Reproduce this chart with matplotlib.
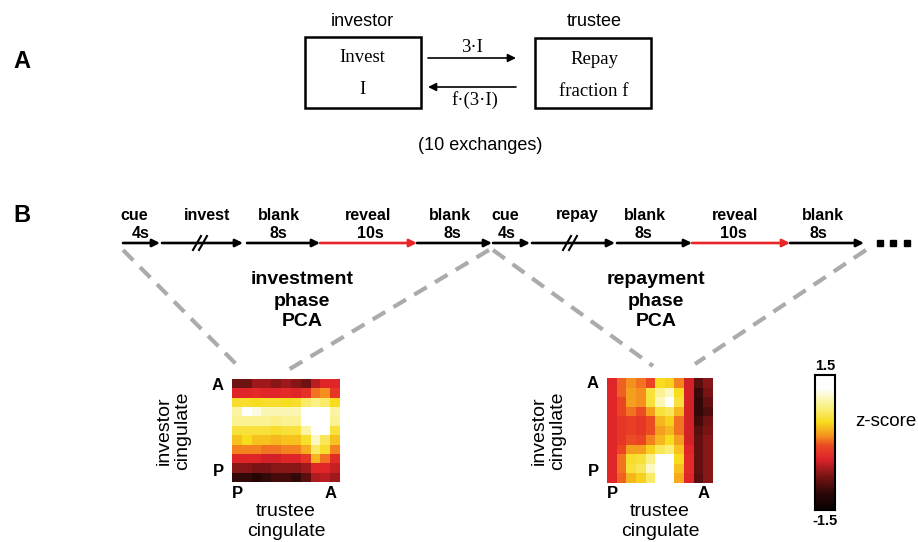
import numpy as np
import matplotlib
matplotlib.use("Agg")
import matplotlib.pyplot as plt
from matplotlib.colors import LinearSegmentedColormap, Normalize
from matplotlib.patches import Rectangle

plt.rcParams['font.family'] = ['Liberation Sans', 'DejaVu Sans']

# ---------------- data ----------------
phase1_labels = ["cue", "invest", "blank", "reveal", "blank"]
phase1_times = ["4s", "", "8s", "10s", "8s"]
phase2_labels = ["cue", "repay", "blank", "reveal", "blank"]
phase2_times = ["4s", "", "8s", "10s", "8s"]

invest_pca = np.array([
    [-0.8, -0.8, -0.6, -0.6, -0.7, -0.6, -0.7, -0.8, -0.5, -0.35, -0.35],
    [-0.35, -0.35, -0.3, -0.35, -0.35, -0.3, -0.35, -0.25, 0.05, 0.15, -0.2],
    [0.5, 0.5, 0.45, 0.5, 0.5, 0.45, 0.5, 0.7, 0.8, 0.7, 0.45],
    [0.9, 1.2, 1.1, 0.95, 0.95, 0.95, 0.95, 1.3, 1.4, 1.3, 0.9],
    [0.85, 0.85, 0.85, 0.85, 0.8, 0.85, 0.85, 1.3, 1.5, 1.3, 0.85],
    [0.55, 0.55, 0.55, 0.55, 0.5, 0.55, 0.55, 0.9, 1.3, 1.2, 0.55],
    [0.35, 0.45, 0.35, 0.35, 0.3, 0.35, 0.35, 0.5, 1.0, 0.65, 0.35],
    [0.1, 0.1, 0.1, 0.05, 0.05, 0.1, 0.1, 0.25, 0.7, 0.5, 0.1],
    [-0.35, -0.35, -0.35, -0.4, -0.4, -0.35, -0.35, -0.2, 0.3, 0.05, -0.3],
    [-0.7, -0.7, -0.75, -0.75, -0.7, -0.7, -0.7, -0.6, -0.35, -0.35, -0.45],
    [-1.1, -1.1, -1.2, -1.1, -1.0, -1.0, -1.1, -0.9, -0.55, -0.5, -0.6],
])

repay_pca = np.array([
    [-0.35, 0.0, 0.15, 0.05, -0.1, 0.45, 0.4, 0.1, -0.4, -0.9, -0.7],
    [-0.35, 0.0, 0.2, 0.15, 0.55, 0.85, 1.0, 0.45, -0.4, -1.05, -0.75],
    [-0.35, -0.1, 0.2, 0.15, 0.55, 0.95, 1.4, 0.55, -0.4, -1.1, -0.85],
    [-0.35, -0.1, 0.05, -0.05, 0.2, 0.55, 0.65, 0.3, -0.4, -1.1, -0.95],
    [-0.35, -0.2, -0.15, -0.2, -0.05, 0.3, 0.4, 0.05, -0.4, -1.0, -0.8],
    [-0.35, -0.2, -0.15, -0.2, -0.05, 0.2, 0.3, 0.05, -0.4, -0.9, -0.75],
    [-0.35, -0.2, -0.05, -0.1, 0.1, 0.3, 0.45, 0.2, -0.4, -0.85, -0.7],
    [-0.35, -0.1, 0.2, 0.2, 0.4, 0.65, 0.75, 0.35, -0.35, -0.85, -0.7],
    [-0.35, 0.05, 0.5, 0.55, 0.8, 1.3, 1.3, 0.45, -0.3, -0.85, -0.7],
    [-0.35, 0.05, 0.55, 0.65, 1.0, 1.5, 1.5, 0.35, -0.3, -0.85, -0.7],
    [-0.35, 0.0, 0.3, 0.4, 0.7, 1.4, 1.4, 0.25, -0.35, -0.9, -0.7],
])

zmin, zmax = -1.5, 1.5
cbar_ticks = ["1.5", "-1.5"]

# ---------------- figure ----------------
W, H = 918, 542
fig = plt.figure(figsize=(W / 100, H / 100), dpi=100)
ax = fig.add_axes([0, 0, 1, 1])
ax.set_xlim(0, W)
ax.set_ylim(H, 0)
ax.axis('off')

cmap = LinearSegmentedColormap.from_list("zs", [
    (0.0, "#0a0202"), (0.12, "#2a0707"), (0.25, "#7a1414"), (0.38, "#e0242a"),
    (0.48, "#ec4a24"), (0.54, "#f58a1f"), (0.65, "#f8dc1e"), (0.78, "#fbf390"),
    (0.9, "#ffffff"), (1.0, "#ffffff")])
norm = Normalize(zmin, zmax)

def px_axes(x0, y0, x1, y1):
    return fig.add_axes([x0 / W, 1 - y1 / H, (x1 - x0) / W, (y1 - y0) / H])

serif = ['Liberation Serif', 'DejaVu Serif']

# ---------------- Panel A ----------------
ax.text(22, 62, "A", fontsize=17, fontweight='bold', ha='center', va='center')
ax.text(362, 21, "investor", fontsize=13, ha='center', va='center')
ax.text(594, 21, "trustee", fontsize=13, ha='center', va='center')
ax.add_patch(Rectangle((305, 37), 116, 71, fill=False, lw=1.8, ec='black'))
ax.add_patch(Rectangle((535, 38), 116, 70, fill=False, lw=1.8, ec='black'))
ax.text(362, 57, "Invest", fontsize=13.5, family=serif, ha='center', va='center')
ax.text(362, 90, "I", fontsize=13.5, family=serif, ha='center', va='center')
ax.text(594, 60, "Repay", fontsize=13.5, family=serif, ha='center', va='center')
ax.text(594, 92, "fraction f", fontsize=13.5, family=serif, ha='center', va='center')
arrow_kw = dict(arrowstyle='-|>', color='black', lw=1.2, mutation_scale=12,
                shrinkA=0, shrinkB=0)
ax.annotate('', xy=(516, 58), xytext=(428, 58), arrowprops=arrow_kw)
ax.annotate('', xy=(428, 87), xytext=(516, 87), arrowprops=arrow_kw)
ax.text(472, 47, "3·I", fontsize=13.5, family=serif, ha='center', va='center')
ax.text(475, 100, "f·(3·I)", fontsize=13.5, family=serif, ha='center', va='center')
ax.text(480, 145, "(10 exchanges)", fontsize=13, ha='center', va='center')

# ---------------- Panel B timeline ----------------
ax.text(22, 215, "B", fontsize=17, fontweight='bold', ha='center', va='center')
ty = 243
segments = [  # x0, x1, label-x, time-x, color, break
    (123, 160, 134, 141, 'black', None), (162, 243, 207, None, 'black', 200),
    (247, 320, 279, 278, 'black', None), (320, 417, 368, 370, '#e8262a', None),
    (417, 492, 450, 452, 'black', None),
    (493, 530, 505, 507, 'black', None), (532, 615, 577, None, 'black', 570),
    (617, 692, 645, 643, 'black', None), (692, 790, 735, 733, '#e8262a', None),
    (790, 864, 823, 818, 'black', None)]
labels = phase1_labels + phase2_labels
times = phase1_times + phase2_times
for (x0, x1, lx, tx, col, brk), lab, tm in zip(segments, labels, times):
    ax.annotate('', xy=(x1, ty), xytext=(x0, ty),
                arrowprops=dict(arrowstyle='-|>', color=col, lw=1.9,
                                mutation_scale=11, shrinkA=0, shrinkB=0))
    ax.text(lx, 215, lab, fontsize=11.5, fontweight='bold',
            ha='center', va='center')
    if tm:
        ax.text(tx, 233, tm, fontsize=11.5, fontweight='bold',
                ha='center', va='center')
    if brk:
        for dx in (-3, 3):
            ax.plot([brk + dx - 4, brk + dx + 4], [ty + 7, ty - 7],
                    color='black', lw=1.5)
ax.plot([880, 893, 907], [ty, ty, ty], ls='none', marker='s', ms=5,
        color='black')

# dashed funnels
dash_kw = dict(color='#ababab', lw=3, dashes=(3.5, 2.3))
ax.plot([123, 238], [250, 366], **dash_kw)
ax.plot([489, 288], [250, 370], **dash_kw)
ax.plot([493, 653], [250, 366], **dash_kw)
ax.plot([866, 695], [250, 364], **dash_kw)

for cx, word in ((302, "investment"), (656, "repayment")):
    for i, t in enumerate([word, "phase", "PCA"]):
        ax.text(cx, 280 + 21 * i, t, fontsize=14, fontweight='bold',
                ha='center', va='center')

# ---------------- heatmaps ----------------
def heatmap(mat, x0, y0, x1, y1):
    hax = px_axes(x0, y0, x1, y1)
    hax.imshow(mat, cmap=cmap, norm=norm, aspect='auto',
               interpolation='nearest')
    hax.set_xticks([])
    hax.set_yticks([])
    for s in hax.spines.values():
        s.set_visible(False)
    ax.text(x0 - 14, y0 + 6, "A", fontsize=12, fontweight='bold', ha='center', va='center')
    ax.text(x0 - 14, y1 - 11, "P", fontsize=12, fontweight='bold', ha='center', va='center')
    ax.text(x0 + 5, y1 + 11, "P", fontsize=12, fontweight='bold', ha='center', va='center')
    ax.text(x1 - 9, y1 + 11, "A", fontsize=12, fontweight='bold', ha='center', va='center')
    cx = (x0 + x1) / 2
    ax.text(x0 - 68, (y0 + y1) / 2, "investor", fontsize=14, rotation=90,
            ha='center', va='center')
    ax.text(x0 - 49, (y0 + y1) / 2, "cingulate", fontsize=14, rotation=90,
            ha='center', va='center')
    ax.text(cx, 512, "trustee", fontsize=14, ha='center', va='center')
    ax.text(cx, 532, "cingulate", fontsize=14, ha='center', va='center')

heatmap(invest_pca, 232, 379, 340, 482)
heatmap(repay_pca, 607, 378, 713, 483)

# ---------------- colorbar ----------------
cax = px_axes(815, 375, 835, 510)
grad = np.linspace(zmax, zmin, 256).reshape(-1, 1)
cax.imshow(grad, cmap=cmap, norm=norm, aspect='auto')
cax.set_xticks([])
cax.set_yticks([])
for s in cax.spines.values():
    s.set_linewidth(1.5)
ax.text(825, 366, cbar_ticks[0], fontsize=10.5, fontweight='bold', ha='center', va='center')
ax.text(825, 521, cbar_ticks[1], fontsize=10.5, fontweight='bold', ha='center', va='center')
ax.text(886, 422, "z-score", fontsize=13.5, ha='center', va='center')

fig.savefig("out.png", dpi=100)
